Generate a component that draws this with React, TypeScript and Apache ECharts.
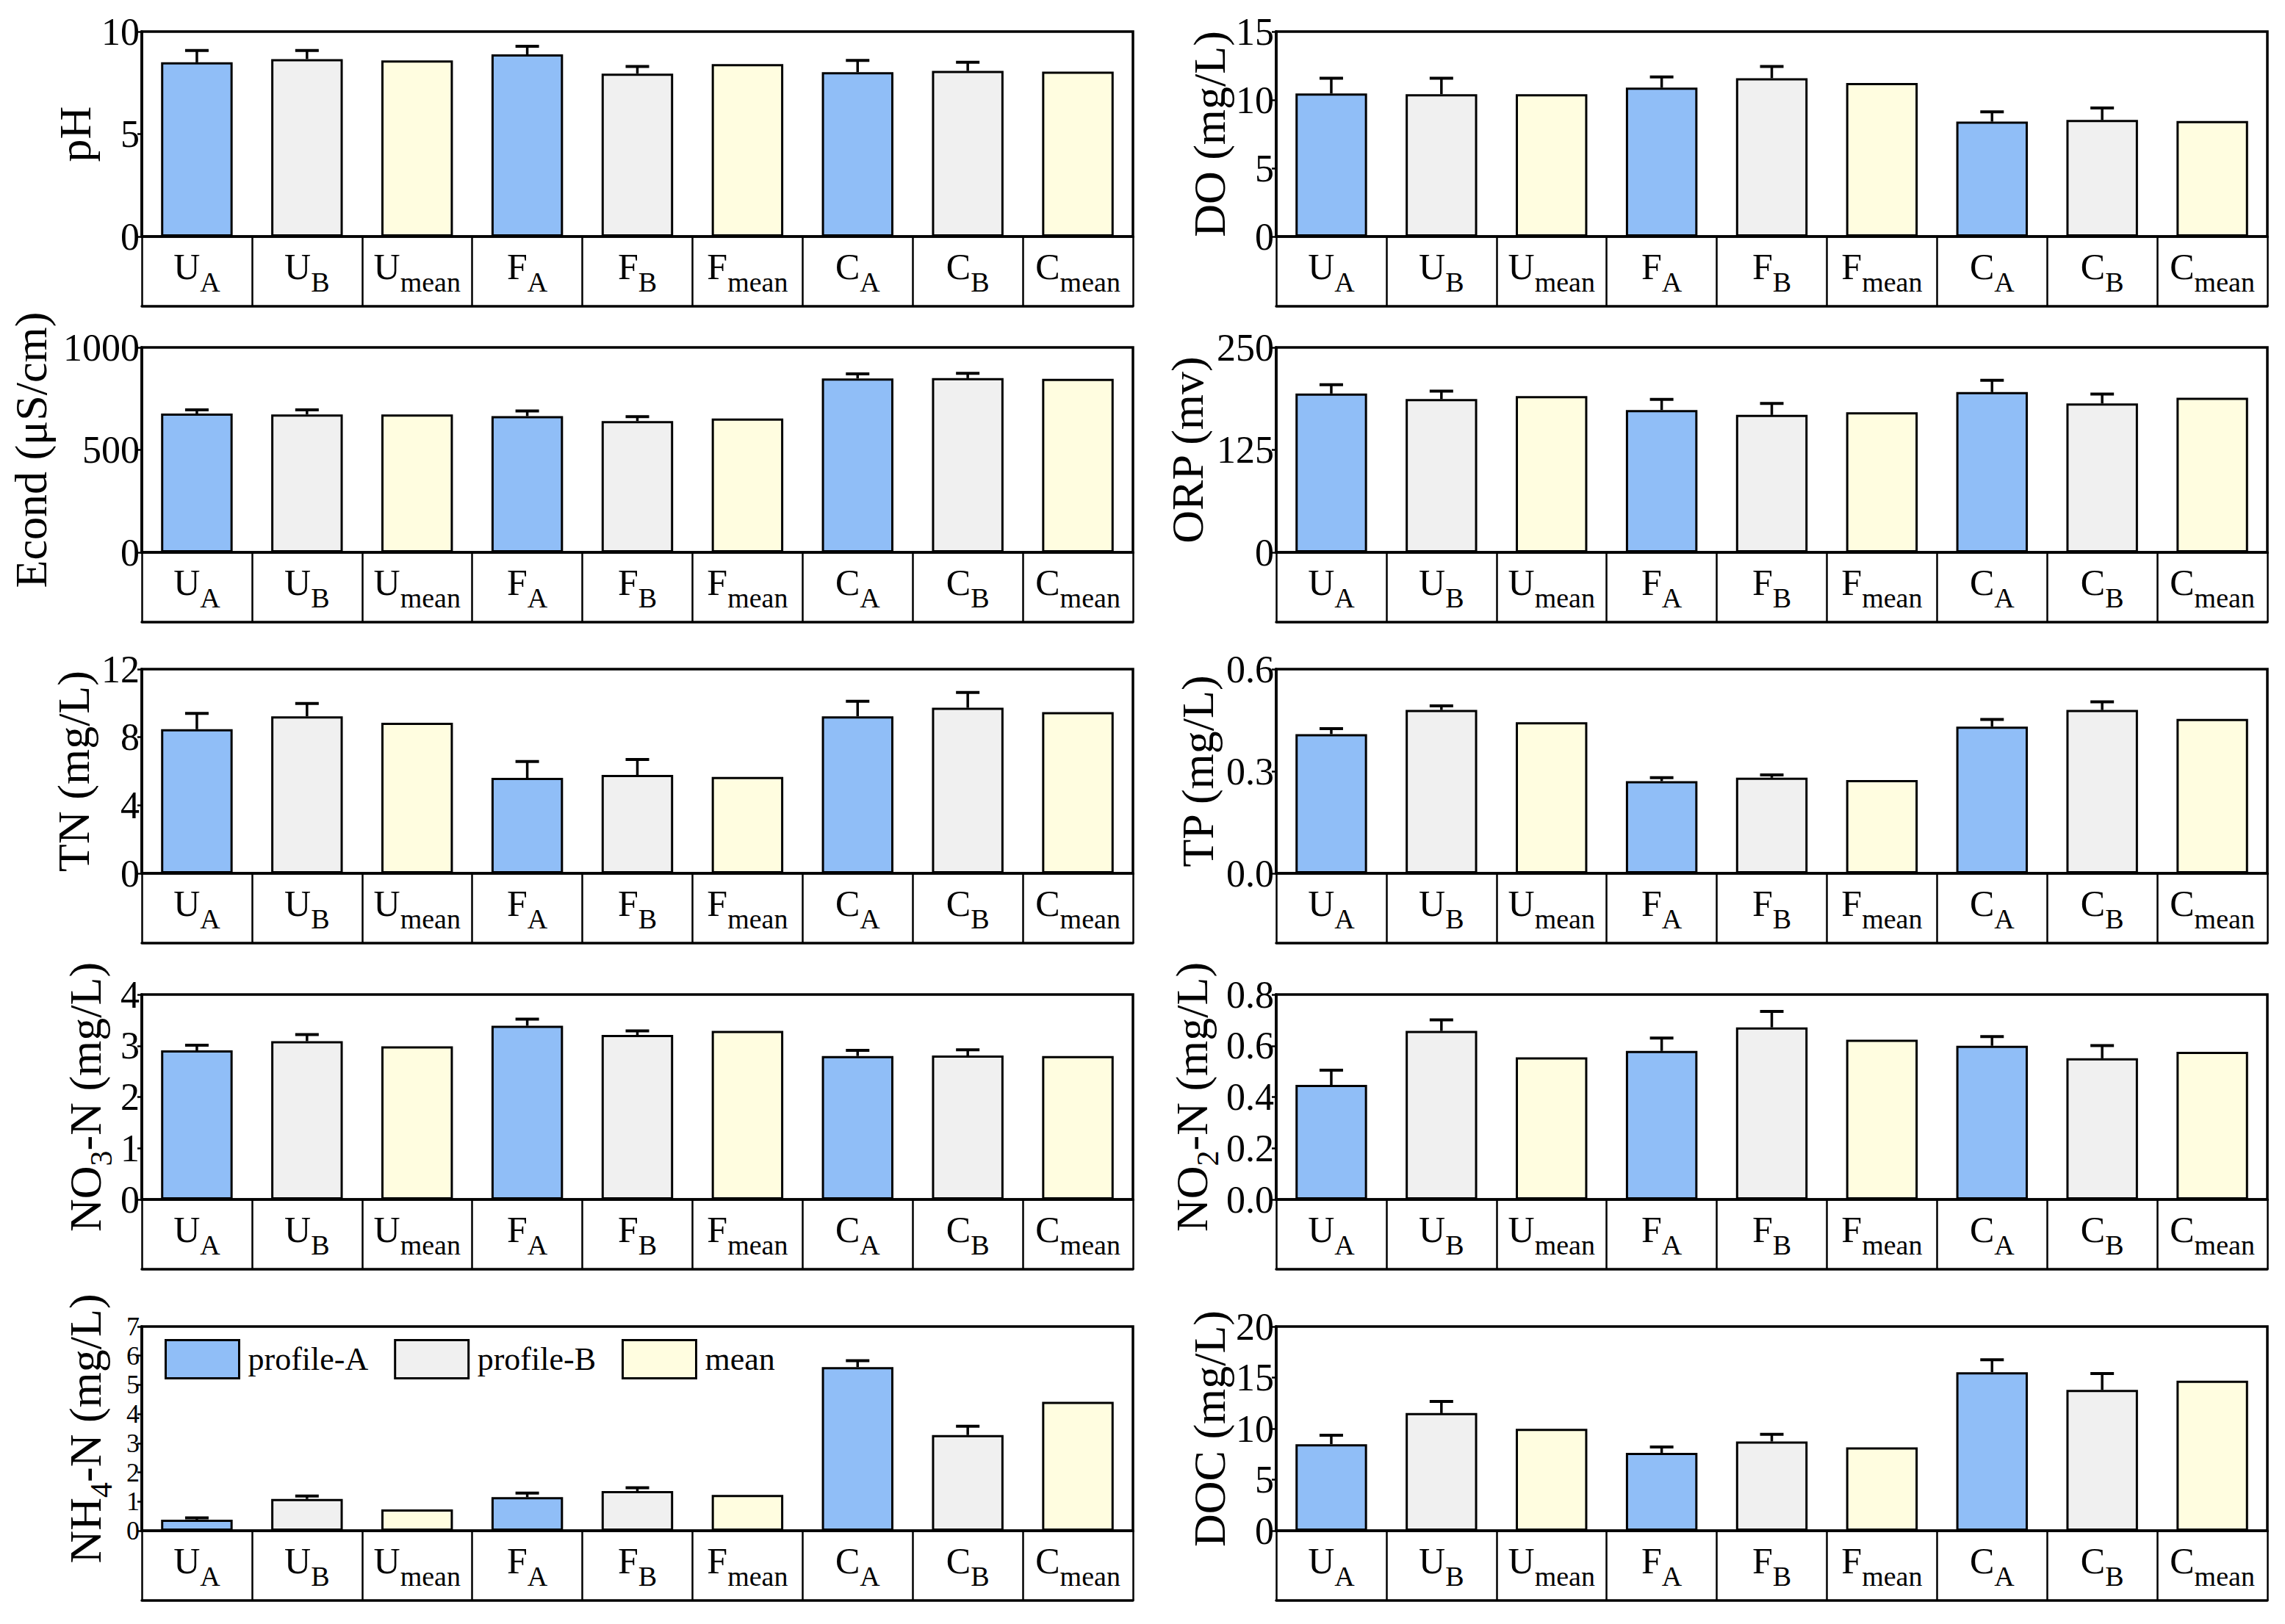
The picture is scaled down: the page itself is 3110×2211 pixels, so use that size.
import React, { useEffect, useRef } from 'react';
import * as echarts from 'echarts';

// ---------- data ----------
const categories = ['U_A', 'U_B', 'U_mean', 'F_A', 'F_B', 'F_mean', 'C_A', 'C_B', 'C_mean'];
const groupIndex = [0, 1, 2, 0, 1, 2, 0, 1, 2];
const seriesNames = ['profile-A', 'profile-B', 'mean'];

const phValues = [8.5, 8.66, 8.59, 8.89, 7.95, 8.41, 8.02, 8.08, 8.05];
const phErrors = [0.58, 0.42, null, 0.39, 0.35, null, 0.57, 0.42, null];

const doValues = [10.47, 10.42, 10.42, 10.9, 11.59, 11.23, 8.41, 8.53, 8.46];
const doErrors = [1.12, 1.17, null, 0.78, 0.86, null, 0.72, 0.88, null];

const econdValues = [677, 673, 673, 665, 641, 653, 849, 850, 847];
const econdErrors = [18, 22, null, 25, 21, null, 22, 24, null];

const orpValues = [193.7, 187, 190.7, 173.7, 167.7, 171, 195.5, 181.7, 188.6];
const orpErrors = [10.8, 9.7, null, 12.8, 14, null, 14.5, 11.3, null];

const tnValues = [8.47, 9.23, 8.85, 5.61, 5.78, 5.67, 9.23, 9.73, 9.47];
const tnErrors = [0.93, 0.75, null, 0.96, 0.91, null, 0.88, 0.9, null];

const tpValues = [0.409, 0.48, 0.444, 0.271, 0.281, 0.274, 0.431, 0.48, 0.454];
const tpErrors = [0.016, 0.012, null, 0.01, 0.008, null, 0.021, 0.024, null];

const no3Values = [2.91, 3.09, 2.99, 3.39, 3.21, 3.29, 2.8, 2.81, 2.8];
const no3Errors = [0.1, 0.13, null, 0.13, 0.08, null, 0.11, 0.11, null];

const no2Values = [0.447, 0.658, 0.555, 0.58, 0.672, 0.624, 0.6, 0.551, 0.576];
const no2Errors = [0.058, 0.043, null, 0.05, 0.062, null, 0.036, 0.05, null];

const nh4Values = [0.38, 1.09, 0.73, 1.15, 1.36, 1.23, 5.61, 3.28, 4.42];
const nh4Errors = [0.06, 0.1, null, 0.14, 0.11, null, 0.22, 0.3, null];

const docValues = [8.48, 11.52, 9.99, 7.63, 8.74, 8.16, 15.53, 13.8, 14.69];
const docErrors = [0.88, 1.15, null, 0.58, 0.7, null, 1.22, 1.6, null];

const axisNames = [
  '{n|pH}',
  '{n|DO (mg/L)}',
  '{n|Econd (μS/cm)}',
  '{n|ORP (mv)}',
  '{n|TN (mg/L)}',
  '{n|TP (mg/L)}',
  '{n|NO}{s|3}{n|-N (mg/L)}',
  '{n|NO}{s|2}{n|-N (mg/L)}',
  '{n|NH}{s|4}{n|-N (mg/L)}',
  '{n|DOC (mg/L)}',
];
const panelValues = [phValues, doValues, econdValues, orpValues, tnValues, tpValues, no3Values, no2Values, nh4Values, docValues];
const panelErrors = [phErrors, doErrors, econdErrors, orpErrors, tnErrors, tpErrors, no3Errors, no2Errors, nh4Errors, docErrors];
const yMax = [10, 15, 1000, 250, 12, 0.6, 4, 0.8, 7, 20];
const yStep = [5, 5, 500, 125, 4, 0.3, 1, 0.2, 1, 5];
const yDecimals = [0, 0, 0, 0, 0, 1, 0, 1, 0, 0];

// ---------- layout / style ----------
const colLeft = [193, 1737];
const plotWidth = 1349;
const rowTop = [43, 473, 911, 1354, 1806];
const rowHeight = [279, 279, 278, 279, 278];
const tableHeight = 95;
const nameGaps = [60, 60, 120, 90, 62, 76, 46, 84, 46, 60];
const tickFont = [52, 52, 52, 52, 52, 52, 52, 52, 36, 52];
const barColors = ['#90BEF7', '#F0F0F0', '#FFFDE0'];
const FONT = '"Liberation Serif", "Times New Roman", "DejaVu Serif", serif';

export default function App() {
  const ref = useRef<HTMLDivElement>(null);

  useEffect(() => {
    document.body.style.margin = '0';
    if (!ref.current) return;
    const chart = echarts.init(ref.current, undefined, { renderer: 'svg' });

    const grids: any[] = [];
    const xAxes: any[] = [];
    const yAxes: any[] = [];
    const series: any[] = [];

    const catRich = {
      b: { fontSize: 50, lineHeight: 50, fontFamily: FONT, color: '#000', verticalAlign: 'top' },
      s: { fontSize: 38, lineHeight: 38, fontFamily: FONT, color: '#000', verticalAlign: 'top', padding: [27, 0, 0, 0] },
    };
    const nameRich = {
      n: { fontSize: 62, lineHeight: 62, fontFamily: FONT, color: '#000', verticalAlign: 'top' },
      s: { fontSize: 42, lineHeight: 42, fontFamily: FONT, color: '#000', verticalAlign: 'top', padding: [32, 0, 0, 0] },
    };

    for (let p = 0; p < 10; p++) {
      const row = Math.floor(p / 2);
      const col = p % 2;
      grids.push({
        left: colLeft[col],
        top: rowTop[row],
        width: plotWidth,
        height: rowHeight[row],
        show: true,
        borderColor: '#000',
        borderWidth: 3.5,
        backgroundColor: 'transparent',
        containLabel: false,
      });
      xAxes.push({
        gridIndex: p,
        type: 'category',
        data: categories,
        position: 'bottom',
        axisLine: { show: true, lineStyle: { color: '#000', width: 3.5 } },
        axisTick: { show: true, interval: 0, length: tableHeight, lineStyle: { color: '#000', width: 2.5 } },
        axisLabel: {
          interval: 0,
          margin: 16,
          formatter: (v: string) => {
            const [b, s] = v.split('_');
            return `{b|${b}}{s|${s}}`;
          },
          rich: catRich,
        },
        splitLine: { show: false },
      });
      xAxes.push({
        gridIndex: p,
        type: 'category',
        data: categories,
        position: 'bottom',
        offset: tableHeight,
        axisLine: { show: true, lineStyle: { color: '#000', width: 3.5 } },
        axisTick: { show: false },
        axisLabel: { show: false },
        splitLine: { show: false },
      });
      const dec = yDecimals[p];
      yAxes.push({
        gridIndex: p,
        type: 'value',
        min: 0,
        max: yMax[p],
        interval: yStep[p],
        name: axisNames[p],
        nameLocation: 'middle',
        nameGap: nameGaps[p],
        nameTextStyle: { fontSize: 62, fontFamily: FONT, color: '#000', rich: nameRich },
        axisLine: { show: true, lineStyle: { color: '#000', width: 3.5 } },
        axisTick: { show: true, length: 6, lineStyle: { color: '#000', width: 2.5 } },
        axisLabel: {
          fontSize: tickFont[p],
          lineHeight: tickFont[p],
          fontFamily: FONT,
          color: '#000',
          margin: 3,
          showMinLabel: true,
          showMaxLabel: true,
          hideOverlap: false,
          formatter: (v: number) => v.toFixed(dec),
        },
        splitLine: { show: false },
      });

      const vals = panelValues[p];
      const errs = panelErrors[p];
      for (let g = 0; g < 3; g++) {
        series.push({
          type: 'bar',
          name: seriesNames[g],
          xAxisIndex: p * 2,
          yAxisIndex: p,
          stack: 'st' + p,
          barWidth: '65%',
          silent: true,
          data: vals.map((v, i) => (groupIndex[i] === g ? v : '-')),
          itemStyle: { color: barColors[g], borderColor: '#000', borderWidth: 3 },
        });
      }
      const errData: any[] = [];
      errs.forEach((e, i) => {
        if (e != null) errData.push([i, vals[i], e]);
      });
      series.push({
        type: 'custom',
        xAxisIndex: p * 2,
        yAxisIndex: p,
        silent: true,
        z: 5,
        encode: { x: 0, y: 1 },
        data: errData,
        renderItem: (params: any, api: any) => {
          const x = api.value(0);
          const v = api.value(1);
          const e = api.value(2);
          const p0 = api.coord([x, v]);
          const p1 = api.coord([x, v + e]);
          const hw = 16;
          return {
            type: 'group',
            children: [
              { type: 'line', shape: { x1: p0[0], y1: p0[1], x2: p1[0], y2: p1[1] }, style: { stroke: '#000', lineWidth: 3.5 } },
              { type: 'line', shape: { x1: p1[0] - hw, y1: p1[1], x2: p1[0] + hw, y2: p1[1] }, style: { stroke: '#000', lineWidth: 4 } },
            ],
          };
        },
      });
    }

    chart.setOption({
      animation: false,
      backgroundColor: '#fff',
      textStyle: { fontFamily: FONT },
      legend: {
        data: seriesNames,
        left: 224,
        top: 1823,
        padding: 0,
        icon: 'rect',
        itemWidth: 100,
        itemHeight: 52,
        itemGap: 35,
        selectedMode: false,
        itemStyle: { borderColor: '#000', borderWidth: 3 },
        textStyle: { fontSize: 44, fontFamily: FONT, color: '#000', padding: [0, 0, 0, 7] },
      },
      grid: grids,
      xAxis: xAxes,
      yAxis: yAxes,
      series,
    });

    return () => {
      chart.dispose();
    };
  }, []);

  return <div ref={ref} style={{ width: 3110, height: 2211 }} />;
}
